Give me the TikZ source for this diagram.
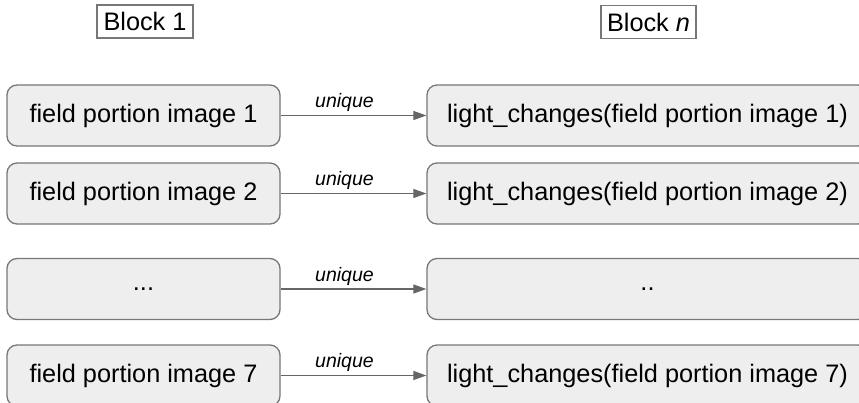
\documentclass[tikz,border=0pt]{standalone}
\usepackage{fontspec}
\setmainfont{Liberation Sans}
\usetikzlibrary{arrows.meta}
\definecolor{boxfill}{HTML}{EEEEEE}
\definecolor{boxline}{HTML}{777777}
\definecolor{arrowcol}{HTML}{666666}
\tikzset{
  header/.style={draw=boxline, fill=white, line width=1.2pt, inner sep=0pt,
    minimum width=96pt, minimum height=33pt, font=\fontsize{25.3}{30}\selectfont},
  leftbox/.style={draw=boxline, fill=boxfill, line width=1.3pt, rounded corners=10pt,
    inner sep=0pt, minimum width=273pt, minimum height=61pt, font=\fontsize{25.3}{30}\selectfont},
  rightbox/.style={leftbox, minimum width=441pt},
  conn/.style={draw=arrowcol, line width=1.2pt, -{Triangle[length=13pt,width=9pt]}},
  lbl/.style={font=\fontsize{19.5}{22}\selectfont\itshape, inner sep=0pt}
}
\begin{document}
\begin{tikzpicture}[x=1pt,y=-1pt]
\useasboundingbox (0,0) rectangle (859,403);
\clip (0,0) rectangle (859,403);
\node[header] (h1) at (145,21.5) {Block 1};
\node[header, minimum width=95pt] (hn) at (648.5,22) {Block \textit{n}};
\node[leftbox] (l1) at (143.5,115.5) {field portion image 1};
\node[leftbox] (l2) at (143.5,193.5) {field portion image 2};
\node[leftbox] (l3) at (143.5,289) {...};
\node[leftbox] (l4) at (143.5,375.5) {field portion image 7};
\node[rightbox] (r1) at (647.5,115.5) {light\_changes(field portion image 1)};
\node[rightbox] (r2) at (647.5,193.5) {light\_changes(field portion image 2)};
\node[rightbox] (r3) at (647.5,289) {..};
\node[rightbox] (r4) at (647.5,375.5) {light\_changes(field portion image 7)};
\foreach \i in {1,2,3,4}{
  \draw[conn] (l\i.east) -- node[lbl, above=3pt, xshift=-9pt] {unique} (r\i.west);
}
\end{tikzpicture}
\end{document}
